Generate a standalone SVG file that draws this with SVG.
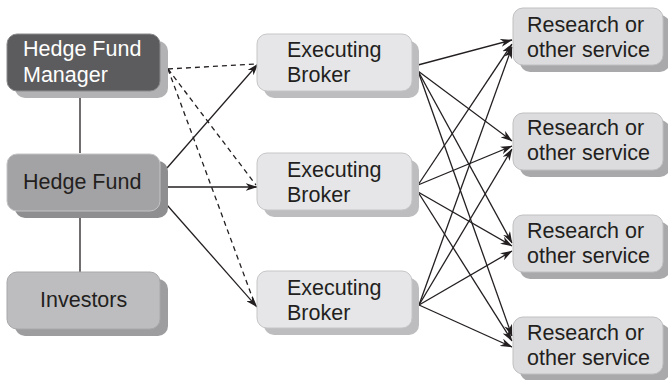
<svg xmlns="http://www.w3.org/2000/svg" width="668" height="380" viewBox="0 0 668 380">
  <defs>
    <marker id="arrow" viewBox="0 0 12 8" refX="11.5" refY="4" markerWidth="12" markerHeight="8" markerUnits="userSpaceOnUse" orient="auto">
      <path d="M0,0 L12,4 L0,8 L3.5,4 Z" fill="#231f20"/>
    </marker>
  </defs>
  <style>
    text { font-family: "Liberation Sans", Arial, sans-serif; font-size: 21.5px; fill: #231f20; }
    .box { stroke-width: 1; }
    .mgr .face { fill: #5c5c5e; stroke: #8a8a8c; }
    .mgr .shadow { fill: #b2b2b4; }
    .mgr text { fill: #ffffff; }
    .fund .face { fill: #a3a3a5; stroke: #c4c4c6; }
    .fund .shadow { fill: #8e8e90; }
    .inv .face { fill: #bdbdbf; stroke: #a8a8aa; }
    .inv .shadow { fill: #9d9d9f; }
    .broker .face { fill: #e6e6e8; stroke: #c6c6c8; }
    .broker .shadow { fill: #bdbdbf; }
    .svc .face { fill: #dcdcde; stroke: #c0c0c2; }
    .svc .shadow { fill: #a9a9ab; }
    .link { fill: none; stroke: #231f20; stroke-width: 1.3; }
    .arrow { marker-end: url(#arrow); }
    .dash { stroke-dasharray: 5 4; }
  </style>

  <!-- connectors -->
  <g id="connectors">
    <!-- ownership chain -->
    <line class="link" x1="80" y1="98" x2="80" y2="153"/>
    <line class="link" x1="80" y1="218" x2="80" y2="272"/>
    <!-- manager to brokers (dashed) -->
    <line class="link dash" x1="168" y1="69" x2="257" y2="64"/>
    <line class="link dash" x1="168" y1="69" x2="256" y2="185"/>
    <line class="link dash" x1="168" y1="69" x2="254" y2="302"/>
    <!-- fund to brokers -->
    <line class="link arrow" x1="167" y1="168" x2="258" y2="64"/>
    <line class="link arrow" x1="167" y1="187" x2="257" y2="187"/>
    <line class="link arrow" x1="167" y1="205" x2="257" y2="307"/>
    <!-- broker 1 to services -->
    <line class="link arrow" x1="418" y1="65" x2="512" y2="40"/>
    <line class="link arrow" x1="418" y1="71" x2="512" y2="141"/>
    <line class="link arrow" x1="418" y1="71" x2="512" y2="243"/>
    <line class="link arrow" x1="418" y1="71" x2="512" y2="336"/>
    <!-- broker 2 to services -->
    <line class="link arrow" x1="418" y1="185" x2="512" y2="44"/>
    <line class="link arrow" x1="418" y1="185" x2="512" y2="146"/>
    <line class="link arrow" x1="418" y1="192" x2="512" y2="246"/>
    <line class="link arrow" x1="418" y1="192" x2="512" y2="341"/>
    <!-- broker 3 to services -->
    <line class="link arrow" x1="419" y1="305" x2="512" y2="47"/>
    <line class="link arrow" x1="419" y1="305" x2="512" y2="149"/>
    <line class="link arrow" x1="419" y1="305" x2="512" y2="251"/>
    <line class="link arrow" x1="419" y1="305" x2="512" y2="347"/>
  </g>

  <!-- left column -->
  <g id="hedge-fund-manager" class="mgr">
    <rect class="shadow" x="15" y="41" width="153" height="57" rx="10"/>
    <rect class="box face" x="7" y="34" width="153" height="57" rx="10"/>
    <text x="23" y="56">Hedge Fund</text>
    <text x="23" y="82">Manager</text>
  </g>
  <g id="hedge-fund" class="fund">
    <rect class="shadow" x="15" y="161" width="153" height="57" rx="10"/>
    <rect class="box face" x="7" y="154" width="153" height="57" rx="10"/>
    <text x="23" y="189">Hedge Fund</text>
  </g>
  <g id="investors" class="inv">
    <rect class="shadow" x="15" y="279" width="153" height="57" rx="10"/>
    <rect class="box face" x="7" y="272" width="153" height="57" rx="10"/>
    <text x="40" y="307">Investors</text>
  </g>

  <!-- executing brokers -->
  <g id="broker-1" class="broker">
    <rect class="shadow" x="264" y="41" width="155" height="57" rx="10"/>
    <rect class="box face" x="257" y="34" width="155" height="57" rx="10"/>
    <text x="287" y="57">Executing</text>
    <text x="287" y="82">Broker</text>
  </g>
  <g id="broker-2" class="broker">
    <rect class="shadow" x="264" y="160" width="155" height="57" rx="10"/>
    <rect class="box face" x="257" y="153" width="155" height="57" rx="10"/>
    <text x="287" y="177">Executing</text>
    <text x="287" y="202">Broker</text>
  </g>
  <g id="broker-3" class="broker">
    <rect class="shadow" x="264" y="278" width="155" height="57" rx="10"/>
    <rect class="box face" x="257" y="271" width="155" height="57" rx="10"/>
    <text x="287" y="295">Executing</text>
    <text x="287" y="320">Broker</text>
  </g>

  <!-- research / service providers -->
  <g id="service-1" class="svc">
    <rect class="shadow" x="520" y="15" width="150" height="57" rx="10"/>
    <rect class="box face" x="513" y="8" width="150" height="57" rx="10"/>
    <text x="527" y="32">Research or</text>
    <text x="527" y="57">other service</text>
  </g>
  <g id="service-2" class="svc">
    <rect class="shadow" x="520" y="120" width="150" height="57" rx="10"/>
    <rect class="box face" x="513" y="113" width="150" height="57" rx="10"/>
    <text x="527" y="135">Research or</text>
    <text x="527" y="160">other service</text>
  </g>
  <g id="service-3" class="svc">
    <rect class="shadow" x="520" y="222" width="150" height="57" rx="10"/>
    <rect class="box face" x="513" y="215" width="150" height="57" rx="10"/>
    <text x="527" y="238">Research or</text>
    <text x="527" y="263">other service</text>
  </g>
  <g id="service-4" class="svc">
    <rect class="shadow" x="520" y="324" width="150" height="57" rx="10"/>
    <rect class="box face" x="513" y="317" width="150" height="57" rx="10"/>
    <text x="527" y="340">Research or</text>
    <text x="527" y="365">other service</text>
  </g>
</svg>
